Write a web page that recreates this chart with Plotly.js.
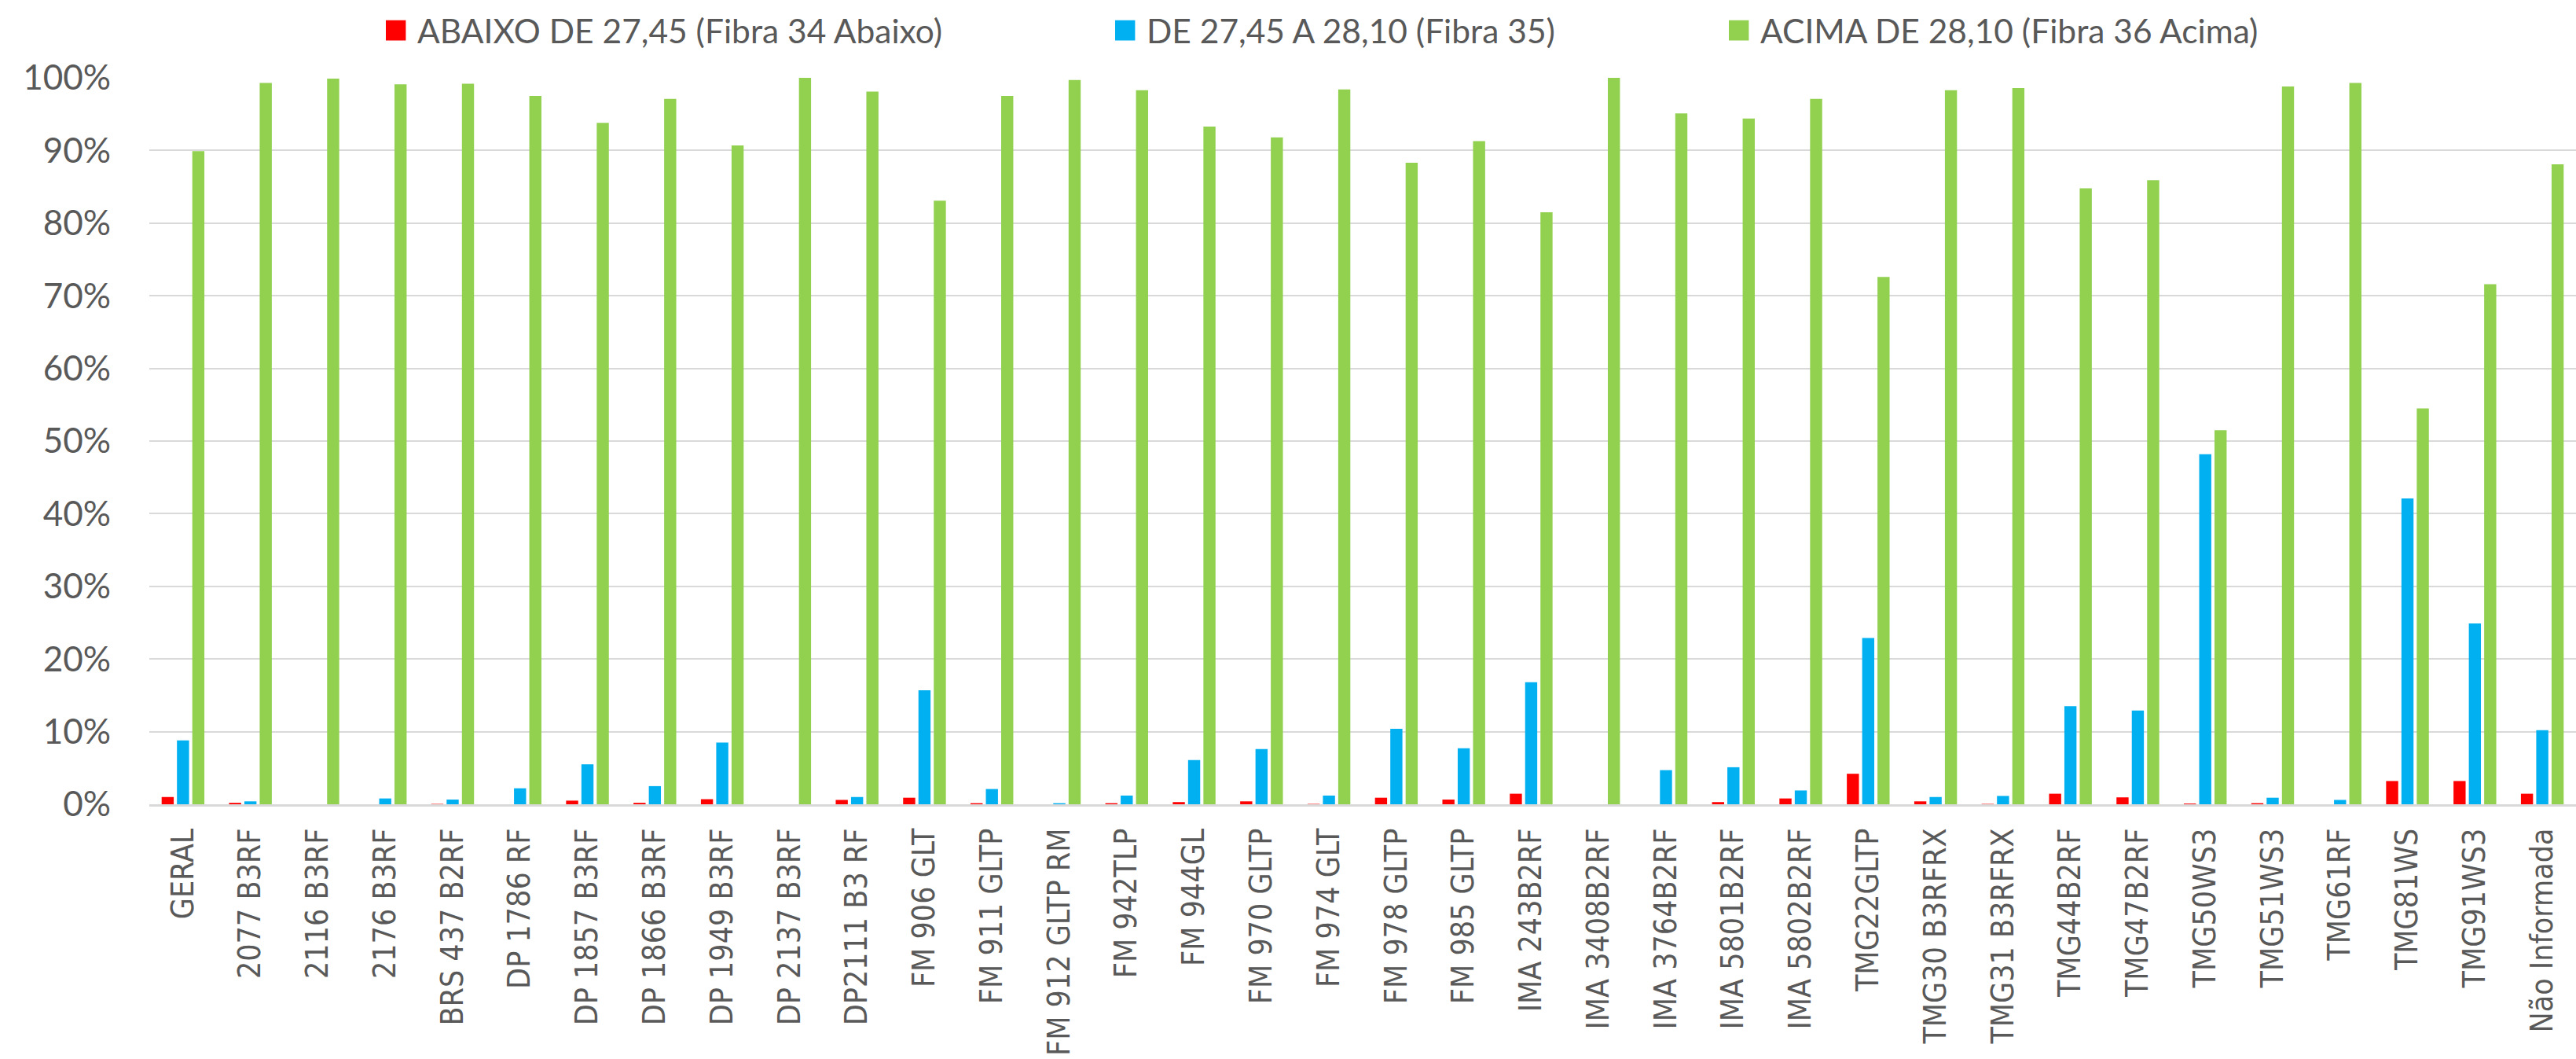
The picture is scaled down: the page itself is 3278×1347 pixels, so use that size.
<!DOCTYPE html>
<html>
<head>
<meta charset="utf-8">
<script src="https://cdn.plot.ly/plotly-3.0.1.min.js"></script>
<style>
html,body{margin:0;padding:0;background:#fff;}
#chart{width:3278px;height:1347px;}
</style>
</head>
<body>
<div id="chart"></div>
<script>
const categories = ["GERAL","2077 B3RF","2116 B3RF","2176 B3RF","BRS 437 B2RF","DP 1786 RF","DP 1857 B3RF","DP 1866 B3RF","DP 1949 B3RF","DP 2137 B3RF","DP2111 B3 RF","FM 906 GLT","FM 911 GLTP","FM 912 GLTP RM","FM 942TLP","FM 944GL","FM 970 GLTP","FM 974 GLT","FM 978 GLTP","FM 985 GLTP","IMA 243B2RF","IMA 3408B2RF","IMA 3764B2RF","IMA 5801B2RF","IMA 5802B2RF","TMG22GLTP","TMG30 B3RFRX","TMG31 B3RFRX","TMG44B2RF","TMG47B2RF","TMG50WS3","TMG51WS3","TMG61RF","TMG81WS","TMG91WS3","Não Informada"];

const seriesNames = ["ABAIXO DE 27,45 (Fibra 34 Abaixo)", "DE 27,45 A 28,10 (Fibra 35)", "ACIMA DE 28,10 (Fibra 36 Acima)"];

const abaixo = [0.010,0.002,0,0,0.0005,0,0.005,0.002,0.007,0,0.006,0.009,0.0015,0,0.0015,0.003,0.004,0.0005,0.009,0.0065,0.0145,0,0,0.003,0.008,0.042,0.004,0.0005,0.0145,0.0095,0.001,0.0015,0,0.032,0.032,0.0145];
const fibra35 = [0.088,0.004,0,0.008,0.0065,0.022,0.055,0.025,0.085,0,0.010,0.157,0.021,0.0015,0.012,0.061,0.076,0.012,0.104,0.077,0.168,0,0.047,0.051,0.019,0.229,0.010,0.0115,0.135,0.129,0.482,0.009,0.006,0.421,0.249,0.102];
const acima = [0.899,0.993,0.999,0.991,0.992,0.975,0.938,0.971,0.907,1.0,0.981,0.831,0.975,0.997,0.983,0.933,0.918,0.984,0.883,0.913,0.815,1.0,0.951,0.944,0.971,0.726,0.983,0.986,0.848,0.859,0.515,0.988,0.993,0.545,0.716,0.881];

const yTickVals = [0,0.1,0.2,0.3,0.4,0.5,0.6,0.7,0.8,0.9,1.0];

const colors = ["#FF0000", "#00B0F0", "#92D050"];
const legendIds = ["legend", "legend2", "legend3"];
const values = [abaixo, fibra35, acima];

const traces = values.map((v, i) => ({
  type: "bar",
  name: seriesNames[i],
  x: categories,
  y: v,
  marker: {color: colors[i]},
  legend: legendIds[i],
  hoverinfo: "x+y+name"
}));

const legendFont = {family: "Lato, 'Open Sans', sans-serif", size: 42.5, color: "#595959"};
function legendAt(xpx) {
  return {
    orientation: "h", xref: "container", yref: "container",
    x: xpx / 3278, y: 1 - 39 / 1347, xanchor: "left", yanchor: "middle",
    bgcolor: "rgba(0,0,0,0)", borderwidth: 0, font: legendFont
  };
}

const layout = {
  width: 3278, height: 1347,
  paper_bgcolor: "#ffffff", plot_bgcolor: "#ffffff",
  margin: {l: 190, r: 0, t: 99, b: 324},
  barmode: "group",
  bargap: 0.318,
  bargroupgap: 0.21,
  showlegend: true,
  legend: legendAt(491),
  legend2: legendAt(1419),
  legend3: legendAt(2200),
  xaxis: {
    type: "category",
    tickangle: -90,
    ticks: "",
    showgrid: false,
    showline: true, linecolor: "#D9D9D9", linewidth: 3,
    ticklabelstandoff: 12,
    tickfont: {family: "'DejaVu Sans Condensed', 'DejaVu Sans', sans-serif", size: 39, color: "#595959"},
    automargin: false
  },
  yaxis: {
    range: [0, 1],
    tickvals: yTickVals,
    tickformat: ".0%",
    showgrid: true, gridcolor: "#D9D9D9", gridwidth: 2,
    zeroline: false,
    showline: false,
    ticks: "",
    ticklabelstandoff: 48,
    tickfont: {family: "Lato, 'Open Sans', sans-serif", size: 44, color: "#595959"},
    automargin: false
  }
};

// enlarge the legend swatches to match the reference's square markers
function bigSwatches() {
  document.querySelectorAll(".legendpoints path").forEach(p => {
    p.setAttribute("transform", "translate(12.5,0) scale(2.15)");
  });
}

const gd = document.getElementById("chart");
Plotly.newPlot(gd, traces, layout, {displayModeBar: false, staticPlot: true}).then(() => {
  bigSwatches();
  gd.on("plotly_afterplot", bigSwatches);
  setTimeout(bigSwatches, 30);
});
</script>
</body>
</html>
